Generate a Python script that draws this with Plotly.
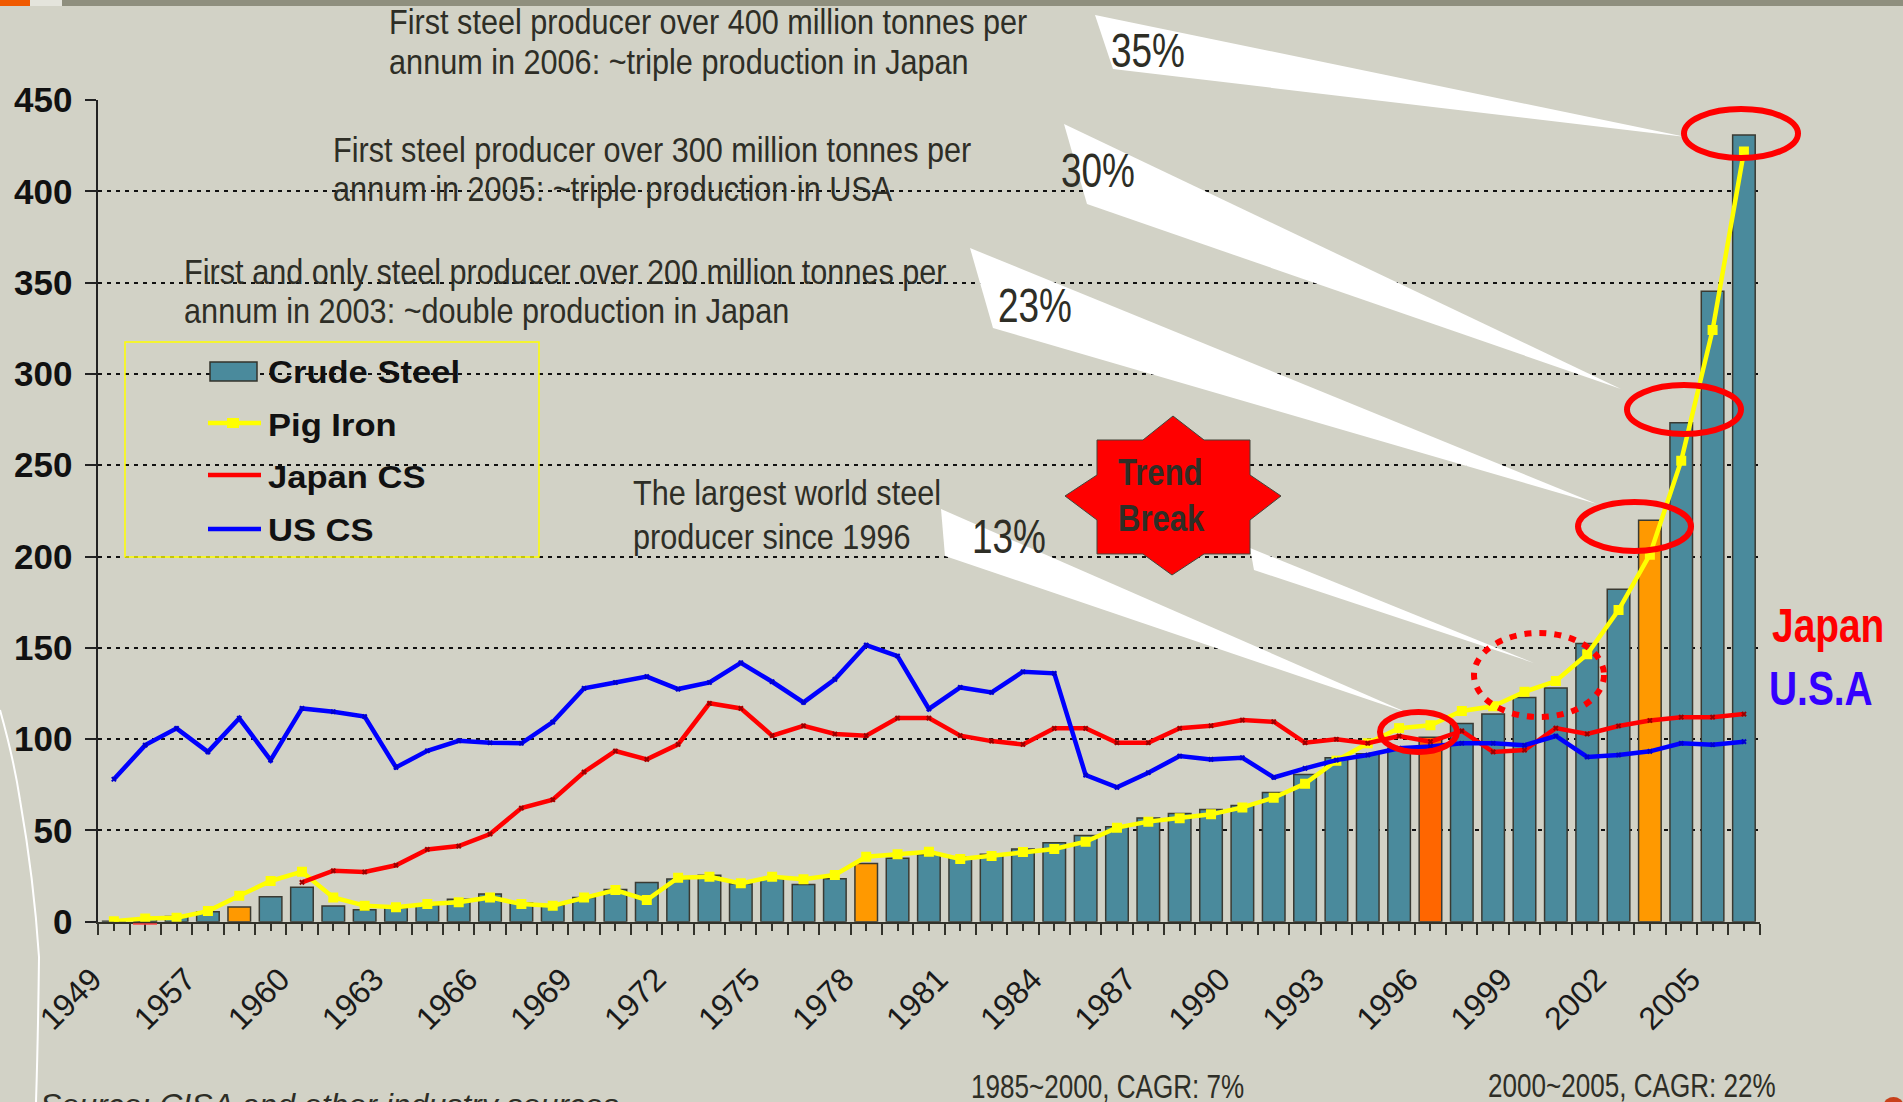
import json
import re
import plotly.graph_objects as go

W, H = 1903, 1102

# ---------- data ----------
years = [1949, 1952, 1955] + list(range(1957, 2007))
labelled_years = [1949, 1957, 1960, 1963, 1966, 1969, 1972, 1975, 1978, 1981, 1984, 1987,
                  1990, 1993, 1996, 1999, 2002, 2005]
crude_steel = [0.2, 1.3, 2.8, 5.5, 8.0, 13.7, 18.8, 8.6, 6.6, 7.6, 9.2, 12.3, 15.2, 10.2, 9.0, 13.2,
               17.7, 21.5, 23.4, 25.5, 20.8, 23.5, 20.4, 23.5, 31.9, 34.7, 36.8, 35.6, 37.0, 39.8,
               43.3, 47.2, 52.0, 56.8, 59.3, 61.5, 63.7, 70.8, 80.6, 89.8, 92.0, 95.0, 101.0,
               108.5, 113.8, 122.8, 128.0, 152.3, 182.0, 219.8, 273.2, 345.2, 430.8]
pig_iron = [0.3, 1.8, 2.2, 5.8, 14.2, 22.3, 27.4, 13.3, 8.8, 7.9, 9.7, 10.6, 13.3, 9.7, 8.8, 13.3,
            17.3, 11.9, 24.1, 24.6, 21.0, 24.6, 23.2, 25.6, 35.6, 37.0, 38.3, 34.3, 36.0, 38.2,
            39.8, 43.8, 51.5, 54.8, 56.6, 58.8, 62.6, 67.9, 75.6, 88.2, 97.7, 106.0, 107.6,
            115.4, 118.0, 125.9, 131.8, 146.5, 170.7, 201.0, 252.5, 324.0, 421.8]
japan_cs = [None] * 6 + [21.5, 27.9, 27.2, 30.9, 39.6, 41.4, 48.0, 62.2, 66.8, 82.0, 93.5, 88.9, 97.1,
                         119.6, 116.8, 101.9, 107.3, 102.8, 101.9, 111.5, 111.5, 101.9, 98.9, 97.1,
                         105.9, 105.9, 98.0, 98.0, 105.9, 107.3, 110.4, 109.5, 98.0, 99.9, 97.7,
                         101.7, 98.6, 104.5, 93.0, 94.0, 106.0, 102.8, 107.2, 110.2, 112.0, 112.0, 113.7]
us_cs = [78.0, 96.7, 105.9, 93.0, 111.4, 88.5, 116.8, 115.0, 112.3, 84.5, 93.6, 99.1, 98.0, 97.7,
         109.3, 127.8, 131.0, 134.2, 127.4, 131.0, 141.8, 131.4, 120.1, 132.7, 151.5, 145.5, 116.5,
         128.3, 125.6, 136.9, 136.0, 80.3, 73.6, 81.6, 90.7, 88.9, 89.8, 79.0, 84.0, 88.5, 91.3,
         95.0, 96.0, 97.7, 97.7, 96.6, 101.7, 90.2, 91.3, 93.3, 97.7, 96.9, 98.6]
y_ticks = [0, 50, 100, 150, 200, 250, 300, 350, 400, 450]
highlight_bars = {1958: "#FF9900", 1978: "#FF9900", 2003: "#FF9900", 1996: "#FF6600"}

# ---------- colours ----------
BG = "#D2D2C6"
TEAL = "#4A8A9C"
DARK = "#33332B"
TXT = "#2E2E26"
SANS = "Liberation Sans, Arial, sans-serif"

idx = list(range(len(years)))
bar_colors = [highlight_bars.get(y, TEAL) for y in years]
tick_pos = [i - 0.5 for i in range(len(years) + 1)]
tick_txt = [str(years[i]) if i < len(years) and years[i] in labelled_years else "" for i in range(len(years) + 1)]

fig = go.Figure()
fig.add_bar(x=idx, y=crude_steel, width=0.72, name="Crude Steel",
            marker=dict(color=bar_colors, line=dict(color="#3A3A32", width=1.5)))
fig.add_scatter(x=idx, y=pig_iron, mode="lines+markers", name="Pig Iron",
                line=dict(color="#FFFF00", width=4.5),
                marker=dict(symbol="square", size=10, color="#FFFF00"))
fig.add_scatter(x=idx, y=japan_cs, mode="lines+markers", name="Japan CS",
                line=dict(color="#FF0000", width=4.5),
                marker=dict(symbol="x", size=5, color="#990000"))
fig.add_scatter(x=idx, y=us_cs, mode="lines+markers", name="US CS",
                line=dict(color="#0000FF", width=4.5),
                marker=dict(symbol="x", size=5, color="#0000CC"))


def px(x):
    return x / W


def py(y):
    return 1 - y / H


def poly(points, fill, line=None):
    d = "M" + " L".join(f"{px(a):.5f},{py(b):.5f}" for a, b in points) + " Z"
    return dict(type="path", xref="paper", yref="paper", path=d, fillcolor=fill,
                line=dict(color=line or fill, width=1 if line else 0))


def oval(x0, y0, x1, y1, dash="solid", width=6):
    return dict(type="circle", xref="paper", yref="paper", x0=px(x0), x1=px(x1), y0=py(y1), y1=py(y0),
                line=dict(color="#FF0000", width=width, dash=dash))


def rect(x0, y0, x1, y1, fill, line=None, lw=0):
    return dict(type="rect", xref="paper", yref="paper", x0=px(x0), x1=px(x1), y0=py(y1), y1=py(y0),
                fillcolor=fill, line=dict(color=line or fill, width=lw))


def seg(x0, y0, x1, y1, color, width):
    return dict(type="line", xref="paper", yref="paper", x0=px(x0), x1=px(x1), y0=py(y0), y1=py(y1),
                line=dict(color=color, width=width))


shapes = [
    rect(0, 0, 30, 6, "#F05A00"),
    rect(30, 0, 62, 6, "#E4E4DC"),
    rect(62, 0, W, 6, "#8F8F7E"),
    dict(type="path", xref="paper", yref="paper",
         path=f"M{px(0)},{py(710)} Q{px(14)},{py(760)} {px(20)},{py(800)} Q{px(34)},{py(880)} {px(39)},{py(957)} "
              f"Q{px(38)},{py(1040)} {px(36)},{py(1102)}",
         line=dict(color="#FFFFFF", width=2)),
    poly([(1095, 15), (1113, 69), (1686, 137)], "#FFFFFF"),
    poly([(1064, 124), (1087, 204), (1621, 389)], "#FFFFFF"),
    poly([(970, 248), (993, 328), (1597, 504)], "#FFFFFF"),
    poly([(941, 509), (945, 556), (1408, 713)], "#FFFFFF"),
    poly([(1250, 548), (1254, 570), (1534, 663)], "#FFFFFF"),
    poly([(1173, 416), (1204, 440), (1250, 440), (1250, 475), (1281, 496), (1250, 520), (1250, 554),
          (1204, 554), (1172, 575), (1143, 554), (1097, 554), (1097, 520), (1065, 496), (1097, 475),
          (1097, 440), (1143, 440)], "#FF0000", "#44443A"),
    oval(1684, 109, 1798, 158),
    oval(1627, 385, 1741, 434),
    oval(1578, 502, 1691, 551),
    oval(1380, 712, 1457, 752),
    oval(1474, 633, 1604, 717, dash="7px,8px", width=6),
    seg(133, 924, 157, 924, "#FF4040", 1.5),
    rect(125, 342, 539, 557, "rgba(0,0,0,0)", "#FFFF00", 1.5),
    rect(210, 362, 257, 381, TEAL, "#33332B", 1.5),
    seg(208, 423, 261, 423, "#FFFF00", 4.5),
    rect(227, 418, 239, 428, "#FFFF00"),
    seg(208, 475, 261, 475, "#FF0000", 4.5),
    seg(208, 529, 261, 529, "#0000FF", 4.5),
    dict(type="circle", xref="paper", yref="paper", x0=px(1884), x1=px(1903), y0=py(1112), y1=py(1097),
         fillcolor="#C8401A", line=dict(width=0)),
]

ann = []
stretch = {}


def note(text, x, y, size, color=TXT, squeeze=1.0):
    stretch[re.sub(r"<[^>]+>", "", text)] = squeeze
    ann.append(dict(text=text, x=px(x - 2.5), y=py(y), xref="paper", yref="paper", showarrow=False,
                    xanchor="left", yanchor="middle", font=dict(size=size, color=color, family=SANS)))


note("First steel producer over 400 million tonnes per", 389, 22, 35, squeeze=0.875)
note("annum in 2006: ~triple production in Japan", 389, 62, 35, squeeze=0.875)
note("First steel producer over 300 million tonnes per", 333, 150, 35, squeeze=0.875)
note("annum in 2005: ~triple production in USA", 333, 189, 35, squeeze=0.875)
note("First and only steel producer over 200 million tonnes per", 184, 272, 35, squeeze=0.875)
note("annum in 2003: ~double production in Japan", 184, 311, 35, squeeze=0.875)
note("The largest world steel", 633, 492, 35, squeeze=0.875)
note("producer since 1996", 633, 536, 35, squeeze=0.875)
note("35%", 1111, 50, 48, squeeze=0.77)
note("30%", 1061, 171, 48, squeeze=0.77)
note("23%", 998, 305, 48, squeeze=0.77)
note("13%", 972, 536, 48, squeeze=0.77)
note("<b>Trend</b>", 1118, 473, 37, squeeze=0.84)
note("<b>Break</b>", 1118, 518, 37, squeeze=0.84)
note("<b>Japan</b>", 1772, 625, 48, color="#FF0000", squeeze=0.81)
note("<b>U.S.A</b>", 1769, 688, 48, color="#3300FF", squeeze=0.81)
note("1985~2000, CAGR: 7%", 971, 1086, 33, squeeze=0.79)
note("2000~2005, CAGR: 22%", 1488, 1085, 33, squeeze=0.79)
note("<i>Source: CISA and other industry sources</i>", 40, 1105, 32)
note("<b>Crude Steel</b>", 268, 372, 32, color="#111111", squeeze=1.08)
note("<b>Pig Iron</b>", 268, 425, 32, color="#111111", squeeze=1.08)
note("<b>Japan CS</b>", 268, 477, 32, color="#111111", squeeze=1.08)
note("<b>US CS</b>", 268, 530, 32, color="#111111", squeeze=1.08)

fig.update_layout(
    width=W, height=H, autosize=False,
    margin=dict(l=0, r=0, t=0, b=0, autoexpand=False),
    paper_bgcolor=BG, plot_bgcolor=BG,
    showlegend=False, bargap=0.28,
    font=dict(family=SANS, color="#111111"),
    xaxis=dict(domain=[px(98.2), px(1759.6)], range=[-0.5, 52.5], showgrid=False, zeroline=False,
               automargin=False, showline=True, linecolor=DARK, linewidth=2,
               tickmode="array", tickvals=tick_pos, ticktext=tick_txt, ticks="outside", ticklen=11,
               tickwidth=1.5, tickcolor=DARK, tickangle=-45, ticklabelstandoff=13, ticklabelshift=-6,
               tickfont=dict(size=32, color="#1A1A1A", family=SANS),
               minor=dict(tickmode="array", tickvals=idx, ticks="outside", ticklen=7.5, tickwidth=1.5,
                          tickcolor=DARK, showgrid=False)),
    yaxis=dict(domain=[py(921.7), py(100)], range=[0, 450], zeroline=False,
               automargin=False, showline=True, linecolor="#222222", linewidth=1.5,
               tickmode="array", tickvals=y_ticks, ticks="outside", ticklen=11, tickwidth=1.5, tickcolor="#222222",
               tickfont=dict(size=35, color="#111111", family=SANS, weight="bold"),
               ticklabelstandoff=6,
               showgrid=True, gridcolor="#111111", gridwidth=2, griddash="4px,5px"),
    shapes=shapes, annotations=ann,
)

post = """
document.body.style.margin='0';document.body.style.overflow='hidden';
var S = %s;
document.querySelectorAll('text.annotation-text').forEach(function(t){
  var f = S[t.textContent];
  if(!f || f===1) return;
  var b = t.getBBox();
  t.setAttribute('transform','translate('+b.x+',0) scale('+f+',1) translate('+(-b.x)+',0)');
});
""" % json.dumps(stretch)

fig.write_html("out.html", config={"displayModeBar": False}, post_script=post)
